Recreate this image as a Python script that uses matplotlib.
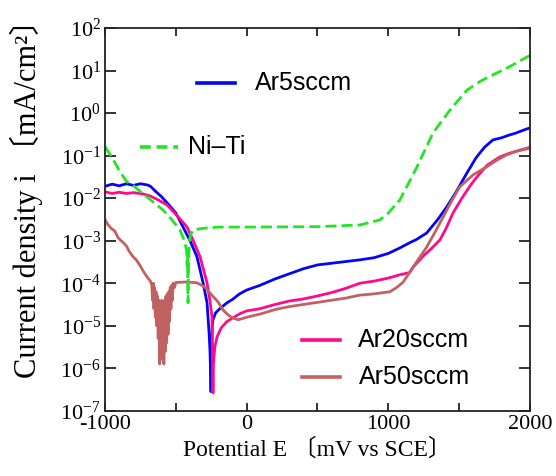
import matplotlib
matplotlib.use('Agg')
import matplotlib.pyplot as plt
import numpy as np
from matplotlib.ticker import MultipleLocator, FuncFormatter, NullLocator, LogLocator

plt.rcParams['font.family'] = ['Liberation Serif', 'Noto Sans CJK JP']
plt.rcParams['mathtext.fontset'] = 'custom'
plt.rcParams['mathtext.rm'] = 'Liberation Serif'
plt.rcParams['axes.unicode_minus'] = False

# potential (mV vs SCE) and log10 of current density (mA/cm2)
ar5_e = [-1000, -950, -900, -850, -800, -750, -700, -680, -640, -600, -562, -500, -449, -400,
         -351, -308, -280, -265, -259, -254, -252, -248, -243, -238, -220, -190, -139, -100,
         -50, 0, 94, 200, 300, 400, 500, 600, 700, 800, 900, 1000, 1082, 1150, 1200, 1271,
         1350, 1414, 1480, 1555, 1620, 1680, 1739, 1800, 1850, 1900, 1979, 2000]
ar5_log = [-1.72, -1.67, -1.71, -1.66, -1.70, -1.66, -1.69, -1.72, -1.85, -1.97, -2.11, -2.35,
           -2.68, -3.0, -3.38, -3.99, -4.46, -5.2, -5.6, -6.2, -6.55, -5.5, -5.0, -4.86, -4.7,
           -4.6, -4.46, -4.38, -4.25, -4.16, -4.05, -3.9, -3.78, -3.66, -3.57, -3.53, -3.49,
           -3.45, -3.40, -3.30, -3.17, -3.05, -2.97, -2.82, -2.5, -2.2, -1.85, -1.41, -1.05,
           -0.8, -0.63, -0.58, -0.52, -0.47, -0.37, -0.35]

ar20_e = [-1000, -950, -900, -850, -800, -732, -680, -620, -562, -500, -421, -380, -329, -280,
          -260, -245, -242, -240, -238, -235, -225, -209, -180, -139, -100, -50, 0, 94, 200,
          300, 400, 500, 600, 700, 800, 900, 1000, 1082, 1150, 1176, 1250, 1300, 1365, 1410,
          1457, 1520, 1580, 1626, 1700, 1788, 1850, 1900, 2000]
ar20_log = [-1.85, -1.89, -1.86, -1.89, -1.87, -1.90, -1.95, -2.05, -2.16, -2.38, -2.68, -2.98,
            -3.38, -3.99, -4.4, -4.79, -5.5, -6.2, -6.58, -5.9, -5.5, -5.26, -5.05, -4.90,
            -4.82, -4.72, -4.65, -4.6, -4.5, -4.42, -4.37, -4.3, -4.22, -4.12, -4.0, -3.95,
            -3.88, -3.8, -3.75, -3.62, -3.35, -3.2, -2.98, -2.7, -2.35, -2.0, -1.7, -1.5,
            -1.22, -1.03, -0.95, -0.9, -0.82]

ar50_e = [-1000, -980, -960, -930, -910, -894, -870, -850, -830, -802, -780, -750, -730, -704,
          -680, -670, -665, -660, -655, -650, -645, -640, -635, -630, -625, -620, -615, -610,
          -605, -600, -595, -590, -585, -580, -575, -570, -565, -560, -555, -550, -545, -540,
          -535, -530, -525, -520, -510, -500, -480, -421, -351, -300, -259, -200, -167, -130,
          -96, -60, 0, 100, 200, 300, 400, 500, 600, 700, 800, 900, 1012, 1060, 1106, 1150,
          1200, 1271, 1330, 1388, 1450, 1506, 1600, 1696, 1770, 1837, 1920, 2000]
ar50_log = [-2.51, -2.62, -2.70, -2.78, -2.92, -2.98, -3.05, -3.12, -3.25, -3.38, -3.45, -3.6,
            -3.72, -3.85, -3.95, -4.05, -4.4, -4.0, -4.6, -4.1, -4.8, -4.2, -5.0, -4.3, -5.3,
            -4.4, -5.9, -4.5, -5.7, -4.4, -5.8, -4.5, -5.9, -4.4, -5.6, -4.3, -5.4, -4.25,
            -5.2, -4.2, -4.9, -4.1, -4.6, -4.05, -4.4, -4.0, -4.1, -3.98, -3.98, -3.97, -3.99,
            -4.08, -4.23, -4.45, -4.63, -4.75, -4.82, -4.86, -4.8, -4.72, -4.62, -4.55, -4.5,
            -4.45, -4.4, -4.35, -4.28, -4.25, -4.2, -4.1, -3.97, -3.75, -3.5, -3.15, -2.8,
            -2.44, -2.05, -1.73, -1.45, -1.26, -1.1, -0.98, -0.88, -0.8]

niti_e = [-1000, -950, -900, -850, -802, -750, -704, -650, -590, -530, -471, -440, -425, -420,
          -418, -416, -414, -412, -405, -395, -379, -330, -280, -200, 0, 500, 800, 941, 1000,
          1082, 1202, 1315, 1435, 1555, 1650, 1739, 1850, 1979, 2000]
niti_log = [-0.79, -1.05, -1.35, -1.6, -1.70, -1.85, -1.97, -2.12, -2.28, -2.5, -2.75, -3.0,
            -3.22, -3.6, -3.3, -4.0, -4.46, -3.8, -3.0, -2.85, -2.75, -2.72, -2.7, -2.68,
            -2.68, -2.67, -2.63, -2.51, -2.35, -2.04, -1.27, -0.47, 0.07, 0.54, 0.75, 0.9,
            1.08, 1.32, 1.35]

c_ar5 = '#0505f5'
c_ar20 = '#ff0a8c'
c_ar50 = '#c06262'
c_niti = '#22e622'
lw = 2.0

fig = plt.figure(figsize=(5.56, 4.76), dpi=100)
ax = fig.add_axes([0.189, 0.137, 0.764, 0.804])

ax.plot(ar5_e, 10 ** np.array(ar5_log), color=c_ar5, lw=lw)
ax.plot(ar20_e, 10 ** np.array(ar20_log), color=c_ar20, lw=lw)
ax.plot(ar50_e, 10 ** np.array(ar50_log), color=c_ar50, lw=lw)
ax.plot(niti_e, 10 ** np.array(niti_log), color=c_niti, lw=lw, dashes=(4, 1.8))

ax.set_yscale('log')
ax.set_xlim(-1000, 2000)
ax.set_ylim(1e-7, 1e2)

ax.xaxis.set_major_locator(MultipleLocator(1000))
ax.xaxis.set_minor_locator(MultipleLocator(500))
ax.yaxis.set_major_locator(LogLocator(base=10, numticks=20))
ax.yaxis.set_minor_locator(NullLocator())
ax.yaxis.set_major_formatter(FuncFormatter(lambda v, p: r'$\mathrm{10^{%d}}$' % round(np.log10(v))))
ax.tick_params(which='both', direction='in', top=True, right=True, width=1.3,
               length=6, labelsize=16, color='#222222')
ax.tick_params(axis='y', length=8, pad=3)
ax.tick_params(axis='x', pad=3)
for s in ax.spines.values():
    s.set_linewidth(1.3)
    s.set_color('#222222')

ax.set_xlabel('Potential E 〔mV vs SCE〕', fontsize=17, labelpad=3)
ax.set_ylabel('Current density i 〔mA/cm²〕', fontsize=22, labelpad=2)
ax.yaxis.set_label_coords(-0.145, 0.575)


def legend_entry(x0, x1, y, tx, label, color, dashed=False):
    kw = dict(dashes=(3, 1.6)) if dashed else {}
    ax.plot([x0, x1], [y, y], transform=ax.transAxes, color=color, lw=2.6, clip_on=False, **kw)
    ax.text(tx, y, label, transform=ax.transAxes, va='center', fontsize=18,
            family='Liberation Sans')


legend_entry(0.216, 0.306, 0.856, 0.353, 'Ar5sccm', c_ar5)
legend_entry(0.082, 0.172, 0.689, 0.195, 'Ni\u2013Ti', c_niti, dashed=True)
legend_entry(0.464, 0.553, 0.185, 0.595, 'Ar20sccm', c_ar20)
legend_entry(0.464, 0.553, 0.089, 0.597, 'Ar50sccm', c_ar50)

fig.savefig('out.png', dpi=100)
